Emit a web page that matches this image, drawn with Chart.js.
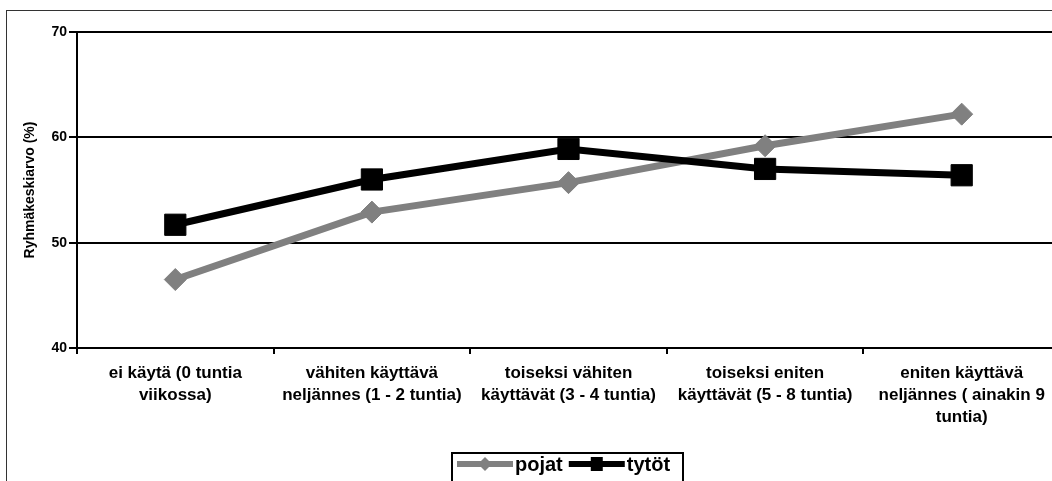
<!DOCTYPE html>
<html>
<head>
<meta charset="utf-8">
<script src="https://cdn.jsdelivr.net/npm/chart.js@4"></script>
<style>
  html, body { margin: 0; padding: 0; background: #fff; overflow: hidden; }
  #wrap { width: 1052px; height: 481px; overflow: hidden; position: relative; }
  canvas { position: absolute; left: 0; top: 0; }
</style>
</head>
<body>
<div id="wrap"><canvas id="chart" width="1076" height="500"></canvas></div>
<script>
// data
const categories = [
  ['ei käytä (0 tuntia', 'viikossa)'],
  ['vähiten käyttävä', 'neljännes (1 - 2 tuntia)'],
  ['toiseksi vähiten', 'käyttävät (3 - 4 tuntia)'],
  ['toiseksi eniten', 'käyttävät (5 - 8 tuntia)'],
  ['eniten käyttävä', 'neljännes ( ainakin 9', 'tuntia)']
];
const pojat = [46.5, 52.9, 55.7, 59.2, 62.2];
const tytot = [51.7, 56.0, 58.9, 57.0, 56.4];
const seriesNames = ['pojat', 'tytöt'];
const yTitle = 'Ryhmäkeskiarvo (%)';
const yMin = 40, yMax = 70, yStep = 10;

const FONT = "'Liberation Sans', Arial, sans-serif";

// frame around the whole chart (runs off the right and bottom edge)
const frame = {
  id: 'frame',
  beforeDraw(chart) {
    const ctx = chart.ctx;
    ctx.save();
    ctx.strokeStyle = '#333';
    ctx.lineWidth = 1;
    ctx.strokeRect(6.5, 10.5, 1100, 600);
    ctx.restore();
  }
};

// legend box with line + marker samples
const legendBox = {
  id: 'legendBox',
  afterDraw(chart) {
    const ctx = chart.ctx;
    ctx.save();
    ctx.font = 'bold 20px ' + FONT;
    ctx.textBaseline = 'middle';
    ctx.strokeStyle = '#000';
    ctx.lineWidth = 2;
    ctx.strokeRect(452, 453, 231, 60);
    const y = 464;
    let x = 457;
    chart.data.datasets.forEach((ds) => {
      ctx.strokeStyle = ds.borderColor;
      ctx.fillStyle = ds.borderColor;
      ctx.lineWidth = 6;
      ctx.beginPath();
      ctx.moveTo(x, y);
      ctx.lineTo(x + 56, y);
      ctx.stroke();
      const cx = x + 28;
      ctx.beginPath();
      if (ds.pointStyle === 'rectRot') {
        ctx.moveTo(cx - 7, y);
        ctx.lineTo(cx, y - 7);
        ctx.lineTo(cx + 7, y);
        ctx.lineTo(cx, y + 7);
        ctx.closePath();
      } else {
        ctx.rect(cx - 6, y - 7, 12, 14);
      }
      ctx.fill();
      ctx.fillStyle = '#000';
      ctx.fillText(ds.label, x + 58, y + 1);
      x += 58 + ctx.measureText(ds.label).width + 6;
    });
    ctx.restore();
  }
};

new Chart(document.getElementById('chart'), {
  type: 'line',
  data: {
    labels: categories,
    datasets: [
      {
        label: seriesNames[0],
        data: pojat,
        borderColor: '#808080',
        backgroundColor: '#808080',
        borderWidth: 7,
        pointStyle: 'rectRot',
        pointRadius: 11,
        pointBorderWidth: 1,
        tension: 0,
        order: 1
      },
      {
        label: seriesNames[1],
        data: tytot,
        borderColor: '#000000',
        backgroundColor: '#000000',
        borderWidth: 7,
        pointStyle: 'rect',
        pointRadius: 15,
        pointBorderWidth: 1,
        tension: 0,
        order: 0
      }
    ]
  },
  options: {
    responsive: false,
    animation: false,
    layout: { padding: { top: 32, left: 0, right: 0, bottom: 0 } },
    plugins: {
      legend: { display: false },
      tooltip: { enabled: false }
    },
    scales: {
      x: {
        offset: true,
        grid: {
          display: true,
          offset: true,
          drawOnChartArea: false,
          drawTicks: true,
          tickLength: 6,
          color: '#000',
          lineWidth: 2
        },
        border: { color: '#000', width: 2 },
        ticks: {
          color: '#000',
          maxRotation: 0,
          autoSkip: false,
          padding: 8,
          font: { family: FONT, size: 17, weight: 'bold', lineHeight: 1.3 }
        },
        afterFit: (scale) => { scale.height = 500 - 348; }
      },
      y: {
        min: yMin,
        max: yMax,
        grid: {
          color: '#000',
          lineWidth: 2,
          tickLength: 8
        },
        border: { color: '#000', width: 2 },
        ticks: {
          stepSize: yStep,
          color: '#000',
          padding: 2,
          font: { family: FONT, size: 14, weight: 'bold' }
        },
        title: {
          display: true,
          text: yTitle,
          color: '#000',
          padding: { top: 22, bottom: 0 },
          font: { family: FONT, size: 14, weight: 'bold' }
        },
        afterFit: (scale) => { scale.width = 77; }
      }
    }
  },
  plugins: [frame, legendBox]
});
</script>
</body>
</html>
